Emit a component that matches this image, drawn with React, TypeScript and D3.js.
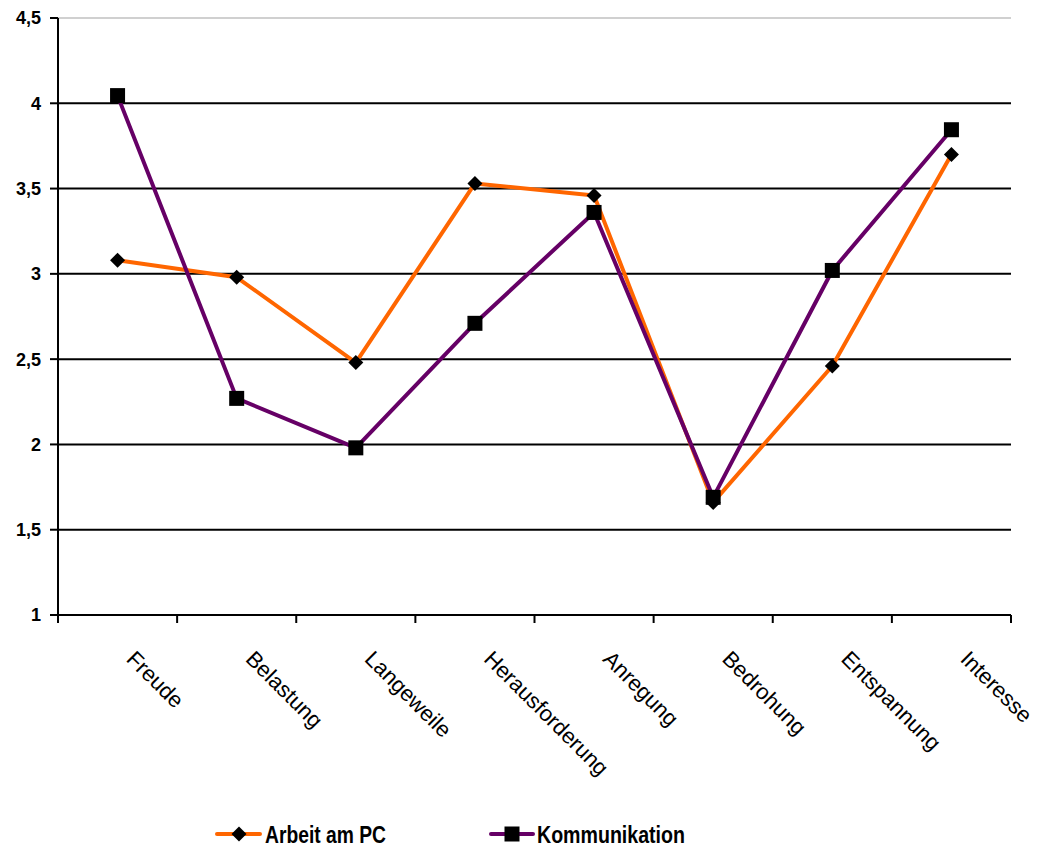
import React from "react";
import * as d3 from "d3";

const categories = ["Freude", "Belastung", "Langeweile", "Herausforderung", "Anregung", "Bedrohung", "Entspannung", "Interesse"];
const arbeitAmPC = [3.08, 2.98, 2.48, 3.53, 3.46, 1.66, 2.46, 3.70];
const kommunikation = [4.045, 2.27, 1.98, 2.71, 3.36, 1.69, 3.02, 3.845];
const yTicks = [1, 1.5, 2, 2.5, 3, 3.5, 4, 4.5];
const seriesNames = ["Arbeit am PC", "Kommunikation"];
const seriesColors = ["#FF6600", "#660066"];

const W = 1038, H = 849;
const left = 58, right = 1011, top = 18, bottom = 615;

export default function App() {
  const x = d3.scaleBand<string>().domain(categories).range([left, right]);
  const y = d3.scaleLinear().domain([1, 4.5]).range([bottom, top]);
  const cx = (c: string) => (x(c) as number) + x.bandwidth() / 2;
  const line = d3.line<number>().x((_, i) => cx(categories[i])).y((v) => y(v));
  const fmt = (v: number) => String(v).replace(".", ",");
  const boundaries = categories.map((c) => x(c) as number).concat([right]);

  const diamond = (px: number, py: number, key: string) => (
    <path key={key} d={`M${px},${py - 7.5}L${px + 7.5},${py}L${px},${py + 7.5}L${px - 7.5},${py}Z`} fill="#000" />
  );
  const square = (px: number, py: number, key: string) => (
    <rect key={key} x={px - 7.5} y={py - 7.5} width={15} height={15} fill="#000" />
  );

  return (
    <svg width={W} height={H} style={{ position: "absolute", left: 0, top: 0, background: "#fff" }}>
      {/* gridlines */}
      {yTicks.filter((t) => t > 1).map((t) => (
        <line key={t} x1={left} x2={right} y1={y(t)} y2={y(t)} stroke={t === 4.5 ? "#c0c0c0" : "#000"} strokeWidth={t === 4.5 ? 1.5 : 2} />
      ))}
      {/* axes */}
      <line x1={left} x2={left} y1={top} y2={bottom} stroke="#000" strokeWidth={2} />
      <line x1={left} x2={right} y1={bottom} y2={bottom} stroke="#000" strokeWidth={2} />
      {yTicks.map((t) => (
        <g key={"yt" + t}>
          <line x1={50} x2={left} y1={y(t)} y2={y(t)} stroke="#000" strokeWidth={2} />
          <text x={41} y={y(t)} dy="0.36em" textAnchor="end" fontFamily="Arial, 'Liberation Sans', sans-serif" fontWeight="bold" fontSize={18}>{fmt(t)}</text>
        </g>
      ))}
      {boundaries.map((b, i) => (
        <line key={"xt" + i} x1={b} x2={b} y1={bottom} y2={623} stroke="#000" strokeWidth={2} />
      ))}
      {categories.map((c) => (
        <text key={"xl" + c} transform={`translate(${cx(c) + 19},${649}) rotate(45)`} dy="0.72em" fontFamily="Arial, 'Liberation Sans', sans-serif" fontSize={22}>{c}</text>
      ))}
      {/* series */}
      {[arbeitAmPC, kommunikation].map((vals, si) => (
        <g key={"s" + si}>
          <path d={line(vals) as string} fill="none" stroke={seriesColors[si]} strokeWidth={4} strokeLinejoin="round" />
          {vals.map((v, i) => (si === 0 ? diamond(cx(categories[i]), y(v), "m" + i) : square(cx(categories[i]), y(v), "m" + i)))}
        </g>
      ))}
      {/* legend */}
      <g>
        <line x1={217} x2={260} y1={834} y2={834} stroke={seriesColors[0]} strokeWidth={4} strokeLinecap="round" />
        {diamond(239, 834, "ld")}
        <text x={265} y={843} fontFamily="'Liberation Sans Narrow', 'Arial Narrow', Arial, sans-serif" fontWeight="bold" fontSize={24} textLength={121} lengthAdjust="spacingAndGlyphs">{seriesNames[0]}</text>
        <line x1={491} x2={533} y1={834} y2={834} stroke={seriesColors[1]} strokeWidth={4} strokeLinecap="round" />
        {square(512, 834, "ls")}
        <text x={537} y={843} fontFamily="'Liberation Sans Narrow', 'Arial Narrow', Arial, sans-serif" fontWeight="bold" fontSize={24} textLength={148} lengthAdjust="spacingAndGlyphs">{seriesNames[1]}</text>
      </g>
    </svg>
  );
}
